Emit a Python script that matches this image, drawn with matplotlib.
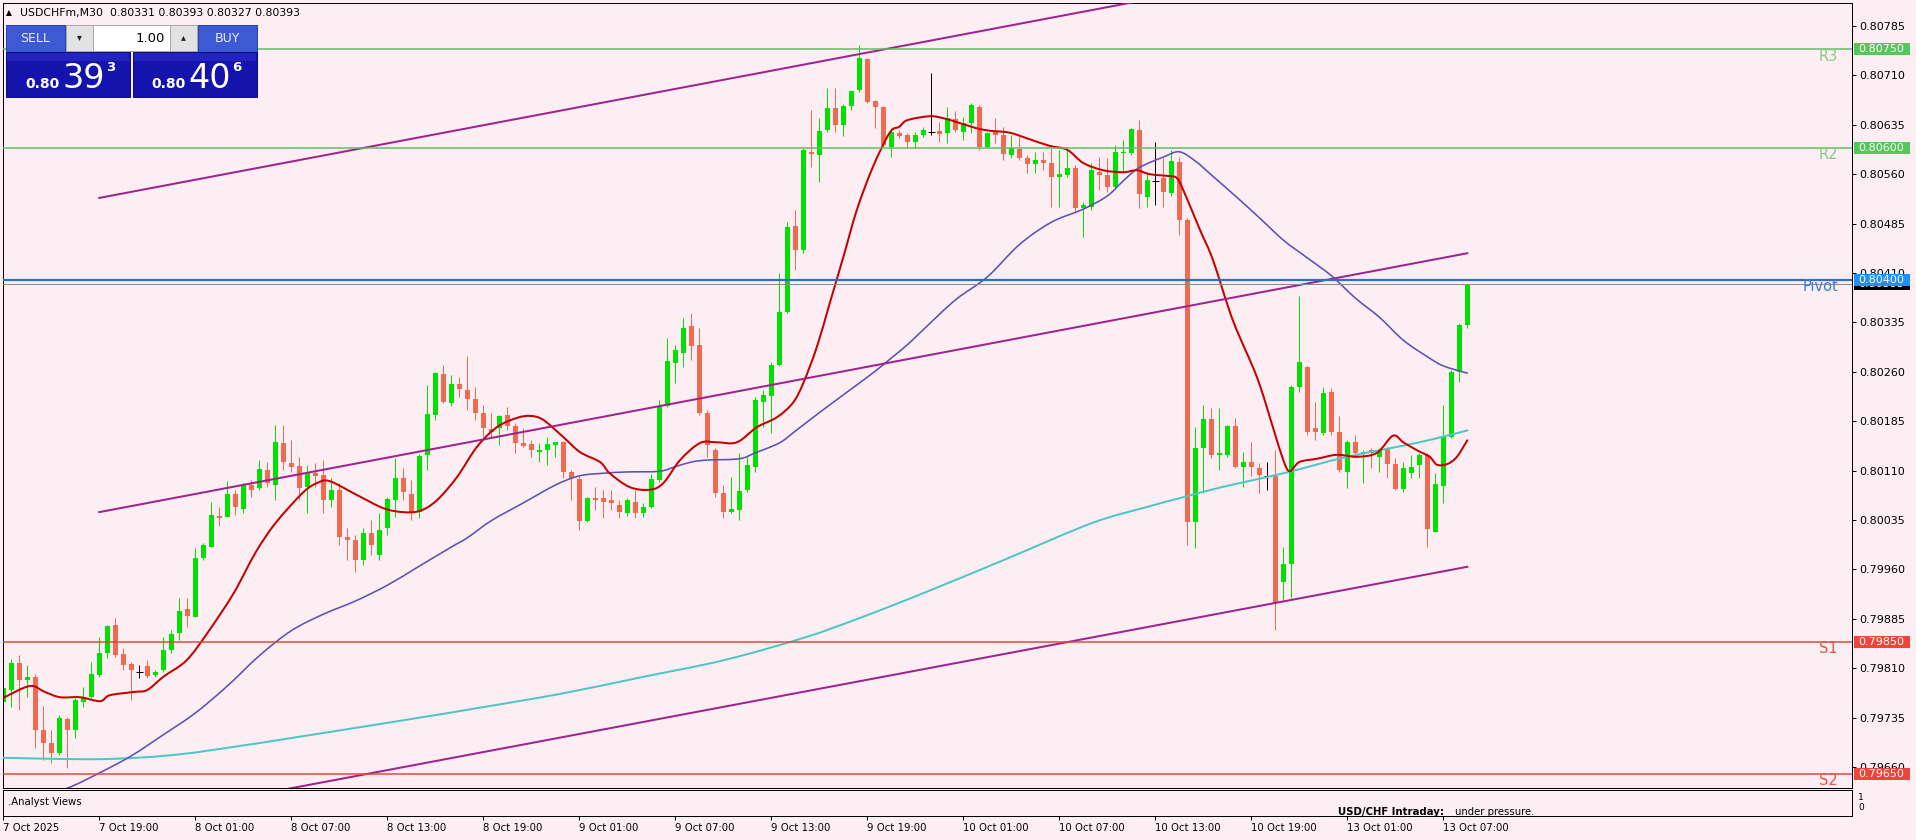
import numpy as np
import matplotlib
matplotlib.use("Agg")
import matplotlib.pyplot as plt
from matplotlib.patches import Rectangle, PathPatch
from matplotlib.path import Path
from matplotlib.lines import Line2D
from matplotlib.transforms import blended_transform_factory

# ---------------- data (prices in points: 1 pt = 0.00001) ----------------
symbol = "USDCHFm,M30"
opens_pt = [79759,79777,79818,79792,79797,79716,79696,79681,79733,79716,
 79759,79766,79800,79833,79876,79832,79816,79804,79813,79800,
 79807,79838,79864,79900,79888,79977,79994,80041,80040,80075,
 80052,80088,80084,80111,80088,80152,80122,80117,80085,80106,
 80103,80065,80081,80009,80005,79974,80015,79982,80023,80065,
 80099,80075,80047,80134,80194,80257,80213,80241,80232,80219,
 80197,80173,80175,80194,80178,80152,80150,80138,80141,80149,
 80153,80108,80097,80034,80068,80068,80065,80058,80046,80062,
 80046,80055,80096,80208,80273,80289,80330,80301,80197,80141,
 80076,80047,80050,80081,80115,80214,80223,80270,80351,80481,
 80445,80594,80589,80627,80661,80635,80664,80688,80735,80671,
 80662,80601,80623,80620,80609,80620,80624,80626,80623,80644,
 80624,80638,80662,80601,80624,80620,80589,80598,80585,80576,
 80582,80577,80556,80559,80570,80509,80510,80563,80559,80541,
 80592,80592,80627,80526,80550,80554,80531,80579,80490,80032,
 80144,80188,80134,80134,80178,80115,80123,80114,80102,80102,
 79941,79968,80237,80267,80175,80167,80229,80169,80108,80153,
 80135,80141,80131,80144,80120,80082,80106,80118,80134,80017,
 80087,80161,80260,80331]
highs_pt = [79786,79824,79830,79815,79801,79753,79716,79739,79736,79765,
 79781,79819,79857,79876,79886,79841,79819,79815,79823,79807,
 79857,79868,79917,79917,79993,80000,80062,80055,80094,80081,
 80091,80096,80126,80123,80179,80179,80156,80131,80118,80122,
 80126,80099,80091,80023,80012,80023,80035,80046,80070,80129,
 80114,80096,80135,80240,80260,80270,80255,80252,80284,80237,
 80210,80197,80194,80207,80182,80175,80156,80152,80161,80153,
 80155,80111,80102,80070,80085,80081,80081,80065,80068,80081,
 80061,80105,80217,80311,80301,80342,80349,80327,80202,80144,
 80088,80100,80137,80134,80222,80232,80275,80410,80488,80506,
 80600,80657,80645,80691,80691,80667,80688,80756,80737,80673,
 80664,80630,80627,80623,80624,80632,80714,80639,80662,80656,
 80647,80668,80665,80624,80645,80632,80620,80617,80589,80594,
 80594,80600,80597,80600,80574,80518,80577,80586,80585,80604,
 80612,80630,80642,80563,80609,80585,80597,80586,80494,80176,
 80210,80205,80205,80179,80190,80138,80153,80122,80123,80141,
 79994,80240,80375,80269,80214,80237,80235,80193,80156,80164,
 80141,80144,80144,80146,80129,80123,80134,80137,80137,80106,
 80210,80263,80334,80393]
lows_pt = [79724,79751,79747,79766,79689,79671,79666,79678,79659,79704,
 79751,79765,79797,79826,79827,79807,79762,79795,79795,79797,
 79804,79833,79853,79873,79888,79974,79994,80026,80040,80043,
 80046,80070,80081,80085,80065,80111,80108,80065,80046,80085,
 80046,80055,79997,79974,79956,79967,79982,79974,80012,80040,
 80065,80035,80038,80111,80187,80213,80208,80222,80202,80187,
 80161,80161,80149,80172,80137,80146,80131,80123,80118,80131,
 80099,80065,80020,80032,80050,80038,80050,80038,80041,80038,
 80040,80053,80093,80207,80243,80267,80278,80194,80131,80070,
 80038,80046,80035,80078,80108,80176,80167,80269,80349,80415,
 80440,80571,80548,80624,80624,80618,80657,80685,80668,80630,
 80601,80586,80615,80600,80600,80617,80620,80609,80607,80624,
 80612,80623,80597,80600,80607,80582,80585,80582,80562,80562,
 80566,80510,80510,80556,80503,80465,80506,80536,80533,80539,
 80562,80589,80509,80510,80513,80510,80527,80468,79997,79993,
 80076,80129,80111,80131,80114,80085,80102,80076,80081,79868,
 79914,79917,80229,80164,80156,80164,80164,80108,80084,80131,
 80091,80114,80108,80099,80081,80078,80099,80099,79994,80017,
 80061,80160,80245,80327]
closes_pt = [79780,79818,79792,79797,79716,79696,79681,79734,79716,79762,
 79766,79801,79833,79874,79830,79815,79807,79804,79798,79804,
 79838,79862,79897,79889,79977,79997,80043,80038,80075,80055,
 80088,80081,80112,80091,80153,80123,80115,80084,80106,80102,
 80065,80081,80009,80005,79974,80015,79997,80020,80067,80099,
 80078,80047,80132,80196,80258,80214,80241,80234,80219,80197,
 80175,80169,80193,80178,80152,80147,80141,80141,80150,80153,
 80108,80099,80034,80068,80065,80062,80061,80047,80065,80046,
 80055,80097,80208,80276,80293,80327,80299,80197,80149,80076,
 80047,80052,80079,80118,80217,80225,80270,80351,80480,80445,
 80597,80591,80626,80661,80635,80664,80686,80737,80670,80662,
 80604,80624,80618,80609,80620,80627,80624,80621,80645,80627,
 80638,80665,80601,80623,80620,80591,80600,80585,80576,80582,
 80577,80556,80560,80570,80509,80513,80566,80559,80541,80594,
 80594,80629,80530,80551,80550,80533,80580,80490,80032,80144,
 80188,80134,80137,80178,80115,80123,80115,80103,80102,79909,
 79968,80237,80275,80169,80169,80228,80169,80111,80153,80137,
 80138,80137,80141,80120,80082,80114,80115,80134,80021,80090,
 80161,80260,80331,80393]

time_tick_bars = [0, 12, 24, 36, 48, 60, 72, 84, 96, 108, 120, 132, 144, 156, 168, 180]
time_tick_labels = ["7 Oct 2025", "7 Oct 19:00", "8 Oct 01:00", "8 Oct 07:00", "8 Oct 13:00",
                    "8 Oct 19:00", "9 Oct 01:00", "9 Oct 07:00", "9 Oct 13:00", "9 Oct 19:00",
                    "10 Oct 01:00", "10 Oct 07:00", "10 Oct 13:00", "10 Oct 19:00",
                    "13 Oct 01:00", "13 Oct 07:00"]

# moving averages (bar position, points)
ma_fast_bars = [0,3.3,5.2,7.1,9.6,12.1,13.3,16.3,18,20,22.9,25.6,28.8,31.5,34,37.4,39.2,40.8,44.2,47.5,
                50,52.1,54.2,56.7,59.2,61.7,64.2,65.9,67.5,70,72.1,74.6,75.8,78.3,80.8,82.5,84.6,87.1,
                89.2,91.7,94.2,96.7,98.7,100,101.7,103.3,105,106.7,108.7,110.8,112,113,115.8,117.5,119.2,
                121.6,123.3,125.8,128.3,130.8,133,135,137.5,140,141.7,143.3,145.8,146.7,147.5,149.6,151.2,
                153.7,156.7,158.7,160,160.8,162,164.2,166.7,169.2,171.7,173.7,175,176.7,178.3,179.2,180.5,
                181.7,183]
ma_fast_pts = [79765,79783,79774,79766,79766,79760,79769,79774,79777,79797,79822,79865,79924,79985,80030,
               80076,80091,80094,80073,80053,80047,80049,80065,80100,80146,80176,80190,80193,80187,80161,
               80138,80123,80106,80085,80081,80091,80126,80152,80153,80153,80176,80191,80213,80243,80298,
               80364,80434,80506,80571,80623,80632,80642,80648,80645,80639,80630,80626,80623,80613,80603,
               80597,80577,80566,80563,80566,80560,80557,80554,80536,80475,80430,80338,80252,80176,80126,
               80109,80123,80128,80134,80131,80137,80163,80153,80141,80131,80119,80120,80131,80156]
ma_mid_bars = [0,4,8,12,16,20,24,28,32,36,40,44,48,52,56,58,61,65,69,72,75,78,82,84,86,88,92,94,97,99,
               102,106,109,111,113,115,119,123,127,131,135,138,140,142,145,147,149,151,154,157,160,163,
               166,169,172,175,178,180,183]
ma_mid_pts = [79602,79615,79628,79651,79677,79709,79742,79783,79829,79867,79892,79912,79936,79965,79994,
              80008,80034,80061,80088,80102,80106,80108,80109,80116,80123,80126,80128,80137,80152,80170,
              80198,80234,80261,80281,80301,80324,80369,80404,80453,80487,80507,80527,80550,80570,80586,
              80594,80580,80559,80527,80494,80460,80433,80406,80372,80343,80308,80283,80269,80258]
ma_slow_bars = [0,12,21,29,37,50,60,70,80,90,100,107,115,125,136,143,147,152,160,168,177,183]
ma_slow_pts = [79674,79672,79678,79691,79706,79731,79751,79772,79797,79822,79856,79886,79924,79974,
               80030,80055,80068,80084,80106,80131,80153,80171]

# trend channel (bar index, points)
channel_bars = [12, 183]
channel_upper_pts = [80524, 80917]
channel_mid_pts = [80047, 80440]
channel_lower_pts = [79573, 79964]

# pivot levels
level_names = ["R3", "R2", "Pivot", "S1", "S2"]
level_prices = [0.80750, 0.80600, 0.80400, 0.79850, 0.79650]

price_ticks = [0.79660, 0.79735, 0.79810, 0.79885, 0.79960, 0.80035, 0.80110, 0.80185,
               0.80260, 0.80335, 0.80410, 0.80485, 0.80560, 0.80635, 0.80710, 0.80785]
bid_price = 0.80393
ask_price = 0.80406
lot_size = "1.00"
analyst_title = "USD/CHF Intraday:"
analyst_text = "under pressure."

# ---------------- styling ----------------
W, H, DPI = 1916, 840, 100
BG = "#FCEEF2"
UP = "#00E100"
DN = "#EE6A50"
PX = 0.72  # one pixel in points

o = np.array(opens_pt) / 1e5
h = np.array(highs_pt) / 1e5
l = np.array(lows_pt) / 1e5
c = np.array(closes_pt) / 1e5
n = len(o)
xb = np.arange(n)

fig = plt.figure(figsize=(W / DPI, H / DPI), dpi=DPI)
fig.patch.set_facecolor(BG)

def fx(p): return p / W
def fy(p): return 1 - p / H

L_PX, R_PX, T_PX, B_PX = 3, 1852, 3, 788
ax = fig.add_axes([fx(L_PX), fy(B_PX), fx(R_PX) - fx(L_PX), fy(T_PX) - fy(B_PX)])
ax.set_facecolor(BG)
x_lo = (L_PX - 3.3) / 8.0
x_hi = (R_PX - 3.3) / 8.0
ax.set_xlim(x_lo, x_hi)
y_top = 0.808199
y_bot = 0.796282
ax.set_ylim(y_bot, y_top)
ppx = (y_top - y_bot) / (B_PX - T_PX)  # price per pixel

# candles
body_w = 0.62
for i in range(n):
    if c[i] > o[i]:
        col = UP
    elif c[i] < o[i]:
        col = DN
    else:
        col = "black"
    ax.vlines(xb[i], l[i], h[i], colors=col, linewidth=1.0 * PX, zorder=2)
    if c[i] == o[i]:
        ax.hlines(o[i], xb[i] - 0.4, xb[i] + 0.4, colors="black", linewidth=1.0 * PX, zorder=2)
    else:
        lo_b = min(o[i], c[i])
        hgt = max(abs(c[i] - o[i]), ppx * 1.2)
        ax.bar(xb[i], hgt, bottom=lo_b, width=body_w, color=col, linewidth=0, zorder=2)


def smooth_line(xs, ys, color, lw, z):
    """Draw a smooth curve (Catmull-Rom as cubic Bezier) through the read points."""
    pts = np.column_stack([np.asarray(xs, float), np.asarray(ys, float)])
    verts = [pts[0]]
    codes = [Path.MOVETO]
    m = len(pts)
    for k in range(m - 1):
        p0 = pts[k - 1] if k > 0 else pts[k]
        p1 = pts[k]
        p2 = pts[k + 1]
        p3 = pts[k + 2] if k + 2 < m else pts[k + 1]
        verts += [p1 + (p2 - p0) / 6.0, p2 - (p3 - p1) / 6.0, p2]
        codes += [Path.CURVE4] * 3
    ax.add_patch(PathPatch(Path(verts, codes), fill=False, edgecolor=color, lw=lw,
                           zorder=z, capstyle="round", joinstyle="round"))


smooth_line(ma_slow_bars, np.array(ma_slow_pts) / 1e5, "#4FC6C6", 2.0 * PX, 3)
smooth_line(ma_mid_bars, np.array(ma_mid_pts) / 1e5, "#5B52B8", 1.6 * PX, 3)
smooth_line(ma_fast_bars, np.array(ma_fast_pts) / 1e5, "#C40000", 2.0 * PX, 3)

# channel
for pts in (channel_upper_pts, channel_mid_pts, channel_lower_pts):
    ax.plot(channel_bars, np.array(pts) / 1e5, color="#A0228E", lw=2.0 * PX, zorder=4)

# levels
level_line_cols = ["#63BB63", "#63BB63", "#2C6FC6", "#E4453A", "#E4453A"]
level_text_cols = ["#86CC86", "#86CC86", "#3A7ED6", "#E2574C", "#E2574C"]
level_box_cols = ["#55C65A", "#55C65A", "#1E8FFF", "#F0443A", "#F0443A"]
level_lw = [1.5, 1.5, 2.2, 1.5, 1.5]
ax.axhline(bid_price, color="#8C8C8C", lw=1.0 * PX, zorder=4)
for name, p, lc, lw in zip(level_names, level_prices, level_line_cols, level_lw):
    ax.axhline(p, color=lc, lw=lw * PX, zorder=4)

bt = blended_transform_factory(ax.transAxes, ax.transData)
for name, p, tc in zip(level_names, level_prices, level_text_cols):
    ax.annotate(name, xy=(1, p), xycoords=bt, xytext=(-14, -7), textcoords="offset pixels",
                ha="right", va="center", color=tc, fontsize=10.5, annotation_clip=False, zorder=5)

# right price axis
for s in ax.spines.values():
    s.set_color("black")
    s.set_linewidth(1.0 * PX)
ax.set_xticks([])
ax.yaxis.tick_right()
ax.set_yticks(price_ticks)
ax.set_yticklabels([f"{p:.5f}" for p in price_ticks])
ax.tick_params(axis="y", direction="out", length=4 * PX, width=1.0 * PX, pad=2.5,
               labelsize=8, colors="black")

axw_px = R_PX - L_PX
box_x0 = (1854 - L_PX) / axw_px
box_w = (1910 - 1854) / axw_px
txt_x = (1858 - L_PX) / axw_px
box_h = 12 * ppx

def price_box(p, fc, z):
    ax.add_patch(Rectangle((box_x0, p - box_h / 2), box_w, box_h, transform=bt, fc=fc, ec="none",
                           clip_on=False, zorder=z))
    ax.text(txt_x, p, f"{p:.5f}", transform=bt, color="white", fontsize=8, va="center", ha="left",
            clip_on=False, zorder=z + 0.1)

price_box(bid_price, "black", 6)
for p, bc in zip(level_prices, level_box_cols):
    price_box(p, bc, 7)

# indicator sub window
sub = fig.add_axes([fx(L_PX), fy(816), fx(R_PX) - fx(L_PX), fy(790) - fy(816)])
sub.set_facecolor(BG)
sub.set_xlim(x_lo, x_hi)
sub.set_ylim(0, 1)
sub.set_yticks([])
for s in sub.spines.values():
    s.set_color("black")
    s.set_linewidth(1.0 * PX)
sub.set_xticks(time_tick_bars)
sub.set_xticklabels(time_tick_labels)
sub.tick_params(axis="x", direction="out", length=4 * PX, width=1.0 * PX, pad=2.5, labelsize=7.3,
                colors="black")
for lbl in sub.get_xticklabels():
    lbl.set_horizontalalignment("left")

# overlay in pixel coordinates for panel widgets and texts
ov = fig.add_axes([0, 0, 1, 1], zorder=10)
ov.set_xlim(0, W)
ov.set_ylim(H, 0)
ov.axis("off")
ov.patch.set_alpha(0)

ov.text(1858, 798, "1", fontsize=6.5, va="center", ha="left")
ov.text(1858, 808, "0", fontsize=6.5, va="center", ha="left")
ov.text(8, 802, ".Analyst Views", fontsize=7.3, va="center", ha="left")
t1 = ov.text(1338, 812, analyst_title, fontsize=7.3, fontweight="bold", va="center", ha="left")

# header
ov.text(6, 13, "\u25B2", fontsize=5.5, va="center", ha="left")
ov.text(20, 13, f"{symbol}  {o[-1]:.5f} {h[-1]:.5f} {l[-1]:.5f} {c[-1]:.5f}",
        fontsize=7.8, va="center", ha="left")

# one click trading panel
HDR = "#3D5AD2"
DARK = "#1414AC"
ov.add_patch(Rectangle((6, 25), 59, 27, fc=HDR, ec="#2B3FA8", lw=0.7))
ov.text(35.5, 38.5, "SELL", fontsize=9, color="#E8ECFF", ha="center", va="center")
ov.add_patch(Rectangle((198, 25), 59, 27, fc=HDR, ec="#2B3FA8", lw=0.7))
ov.text(227.5, 38.5, "BUY", fontsize=9, color="#E8ECFF", ha="center", va="center")
ov.add_patch(Rectangle((66, 25), 131, 26, fc="white", ec="#A8A8A8", lw=0.7))
ov.add_patch(Rectangle((66, 25), 27, 26, fc="#E2E2E2", ec="#A8A8A8", lw=0.7))
ov.add_patch(Rectangle((170, 25), 27, 26, fc="#E2E2E2", ec="#A8A8A8", lw=0.7))
ov.text(79.5, 37, "\u25BE", fontsize=7, ha="center", va="center", color="#202020")
ov.text(183.5, 37, "\u25B4", fontsize=7, ha="center", va="center", color="#202020")
ov.text(165, 38, lot_size, fontsize=9.5, ha="right", va="center", color="black")

for (bx, price, xs) in ((6, bid_price, (25, 62, 106)), (133, ask_price, (151, 188, 232))):
    ov.add_patch(Rectangle((bx, 52), 124, 45, fc=DARK, ec="#0A0A7A", lw=0.7))
    ov.add_patch(Rectangle((bx + 1, 53), 122, 8, fc="#2323C0", ec="none"))
    s = f"{price:.5f}"
    ov.text(xs[0], 88, s[:4], fontsize=10, fontweight="bold", color="white", ha="left", va="baseline")
    ov.text(xs[1], 88, s[4:6], fontsize=24, color="white", ha="left", va="baseline")
    ov.text(xs[2], 61, s[6], fontsize=9.5, fontweight="bold", color="white", ha="left", va="top")

# analyst line: second part placed after the bold title, both underlined
fig.canvas.draw()
inv = ov.transData.inverted()
bb1 = t1.get_window_extent()
(a0, _), (a1, _) = inv.transform([(bb1.x0, bb1.y0), (bb1.x1, bb1.y1)])
t2 = ov.text(a1 + 11, 812, analyst_text, fontsize=7.3, va="center", ha="left")
fig.canvas.draw()
for t in (t1, t2):
    bb = t.get_window_extent()
    (x0, y0), (x1, y1) = inv.transform([(bb.x0, bb.y0), (bb.x1, bb.y1)])
    ov.add_line(Line2D([x0, x1], [y0 - 0.5, y0 - 0.5], color="black", lw=0.8 * PX))

fig.savefig("out.png", dpi=DPI, facecolor=BG)
